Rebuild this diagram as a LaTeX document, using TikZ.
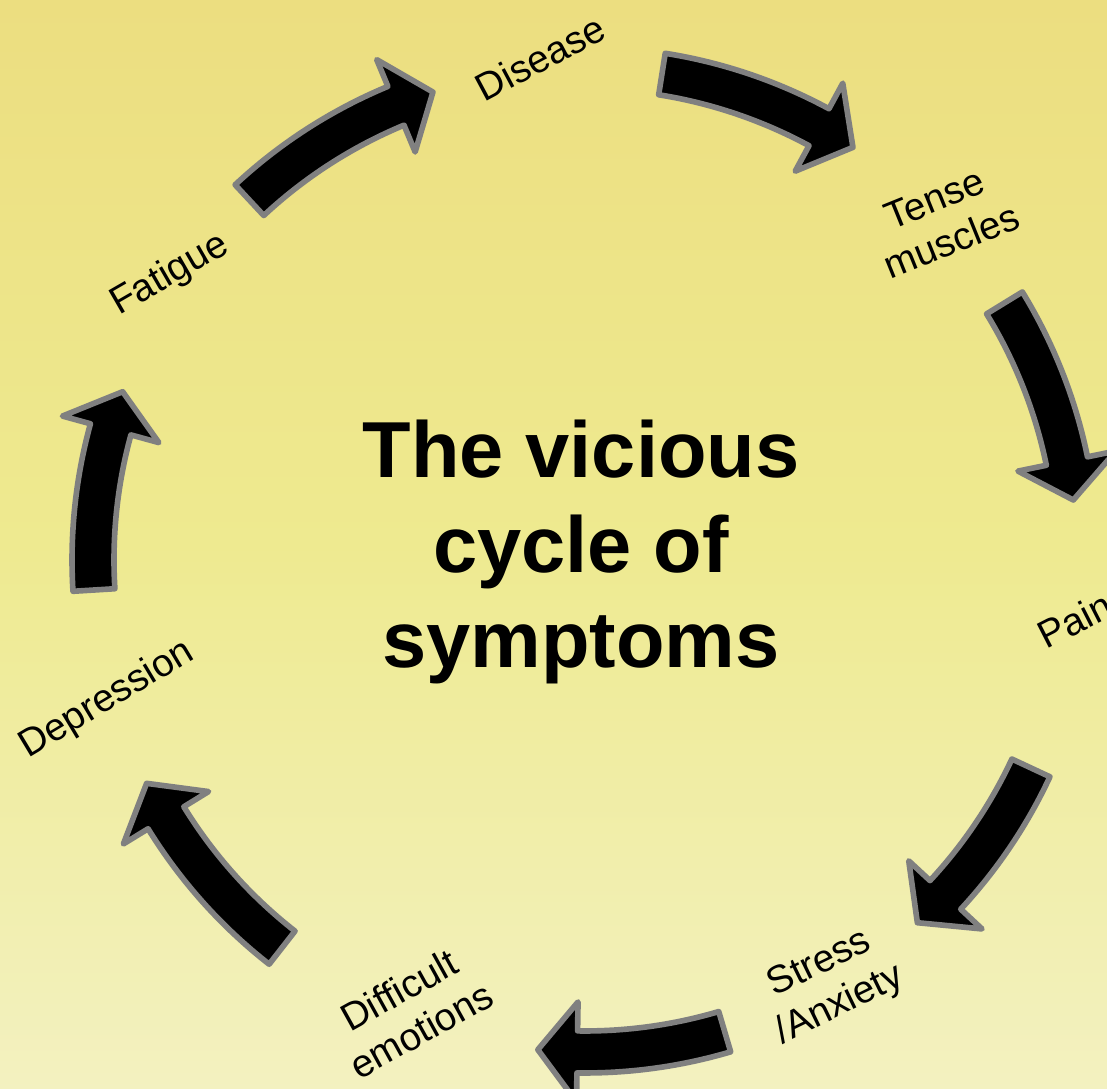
\documentclass[tikz,border=0pt]{standalone}
\usepackage{fontspec}
\setmainfont{Liberation Sans}
\usepackage{tikz}
\usepackage{xcolor}
\definecolor{bgtop}{RGB}{236,222,128}
\definecolor{bgmid}{RGB}{238,234,144}
\definecolor{bgbot}{RGB}{243,241,192}
\definecolor{rim}{RGB}{128,128,128}

% one block arrow on the ring: tail angle, tip angle
\newcommand{\cyclearrow}[2]{%
  \filldraw[cyclearr] (#1:5.13) arc[start angle=#1, end angle={#2+4.6}, radius=5.13]
    -- ({#2+4.6}:5.42) -- (#2:4.92) -- ({#2+4.6}:4.42) -- ({#2+4.6}:4.71)
    arc[start angle={#2+4.6}, end angle=#1, radius=4.71] -- cycle;}

\begin{document}
\begin{tikzpicture}[
          every node/.style={font=\fontsize{11}{13}\selectfont},
          symptom/.style={align=center, inner sep=1pt},
          headline/.style={align=center, font=\fontsize{22.6}{27}\selectfont\bfseries},
          cyclearr/.style={fill=black, draw=rim, line width=1.6pt, line join=round}
      ]
        \useasboundingbox (-5.85,-5.29) rectangle (5.22,5.60);
        \shade[top color=bgtop, bottom color=bgbot, middle color=bgmid] (-5.85,-5.29) rectangle (5.22,5.60);

        \node[headline] (title) at (-0.04,0.08) {The vicious\\cycle of\\symptoms};

        \node[symptom, rotate=28] (dis) at (-0.45,5.02) {Disease};
        \node[symptom, rotate=22] (ten) at (3.58,3.40) {Tense\\muscles};
        \node[symptom, rotate=27] (pain) at (4.90,-0.60) {Pain};
        \node[symptom, rotate=26] (str) at (2.45,-4.25) {Stress\\/Anxiety};
        \node[symptom, rotate=29] (dif) at (-1.75,-4.50) {Difficult\\emotions};
        \node[symptom, rotate=31] (dep) at (-4.78,-1.40) {Depression};
        \node[symptom, rotate=30] (fat) at (-4.15,2.85) {Fatigue};

        \cyclearrow{133}{108}
        \cyclearrow{81}{57}
        \cyclearrow{31.5}{7}
        \cyclearrow{-25}{-47.5}
        \cyclearrow{-73.5}{-95.5}
        \cyclearrow{-128}{-153}
        \cyclearrow{183.5}{160}
      \end{tikzpicture}
\end{document}
